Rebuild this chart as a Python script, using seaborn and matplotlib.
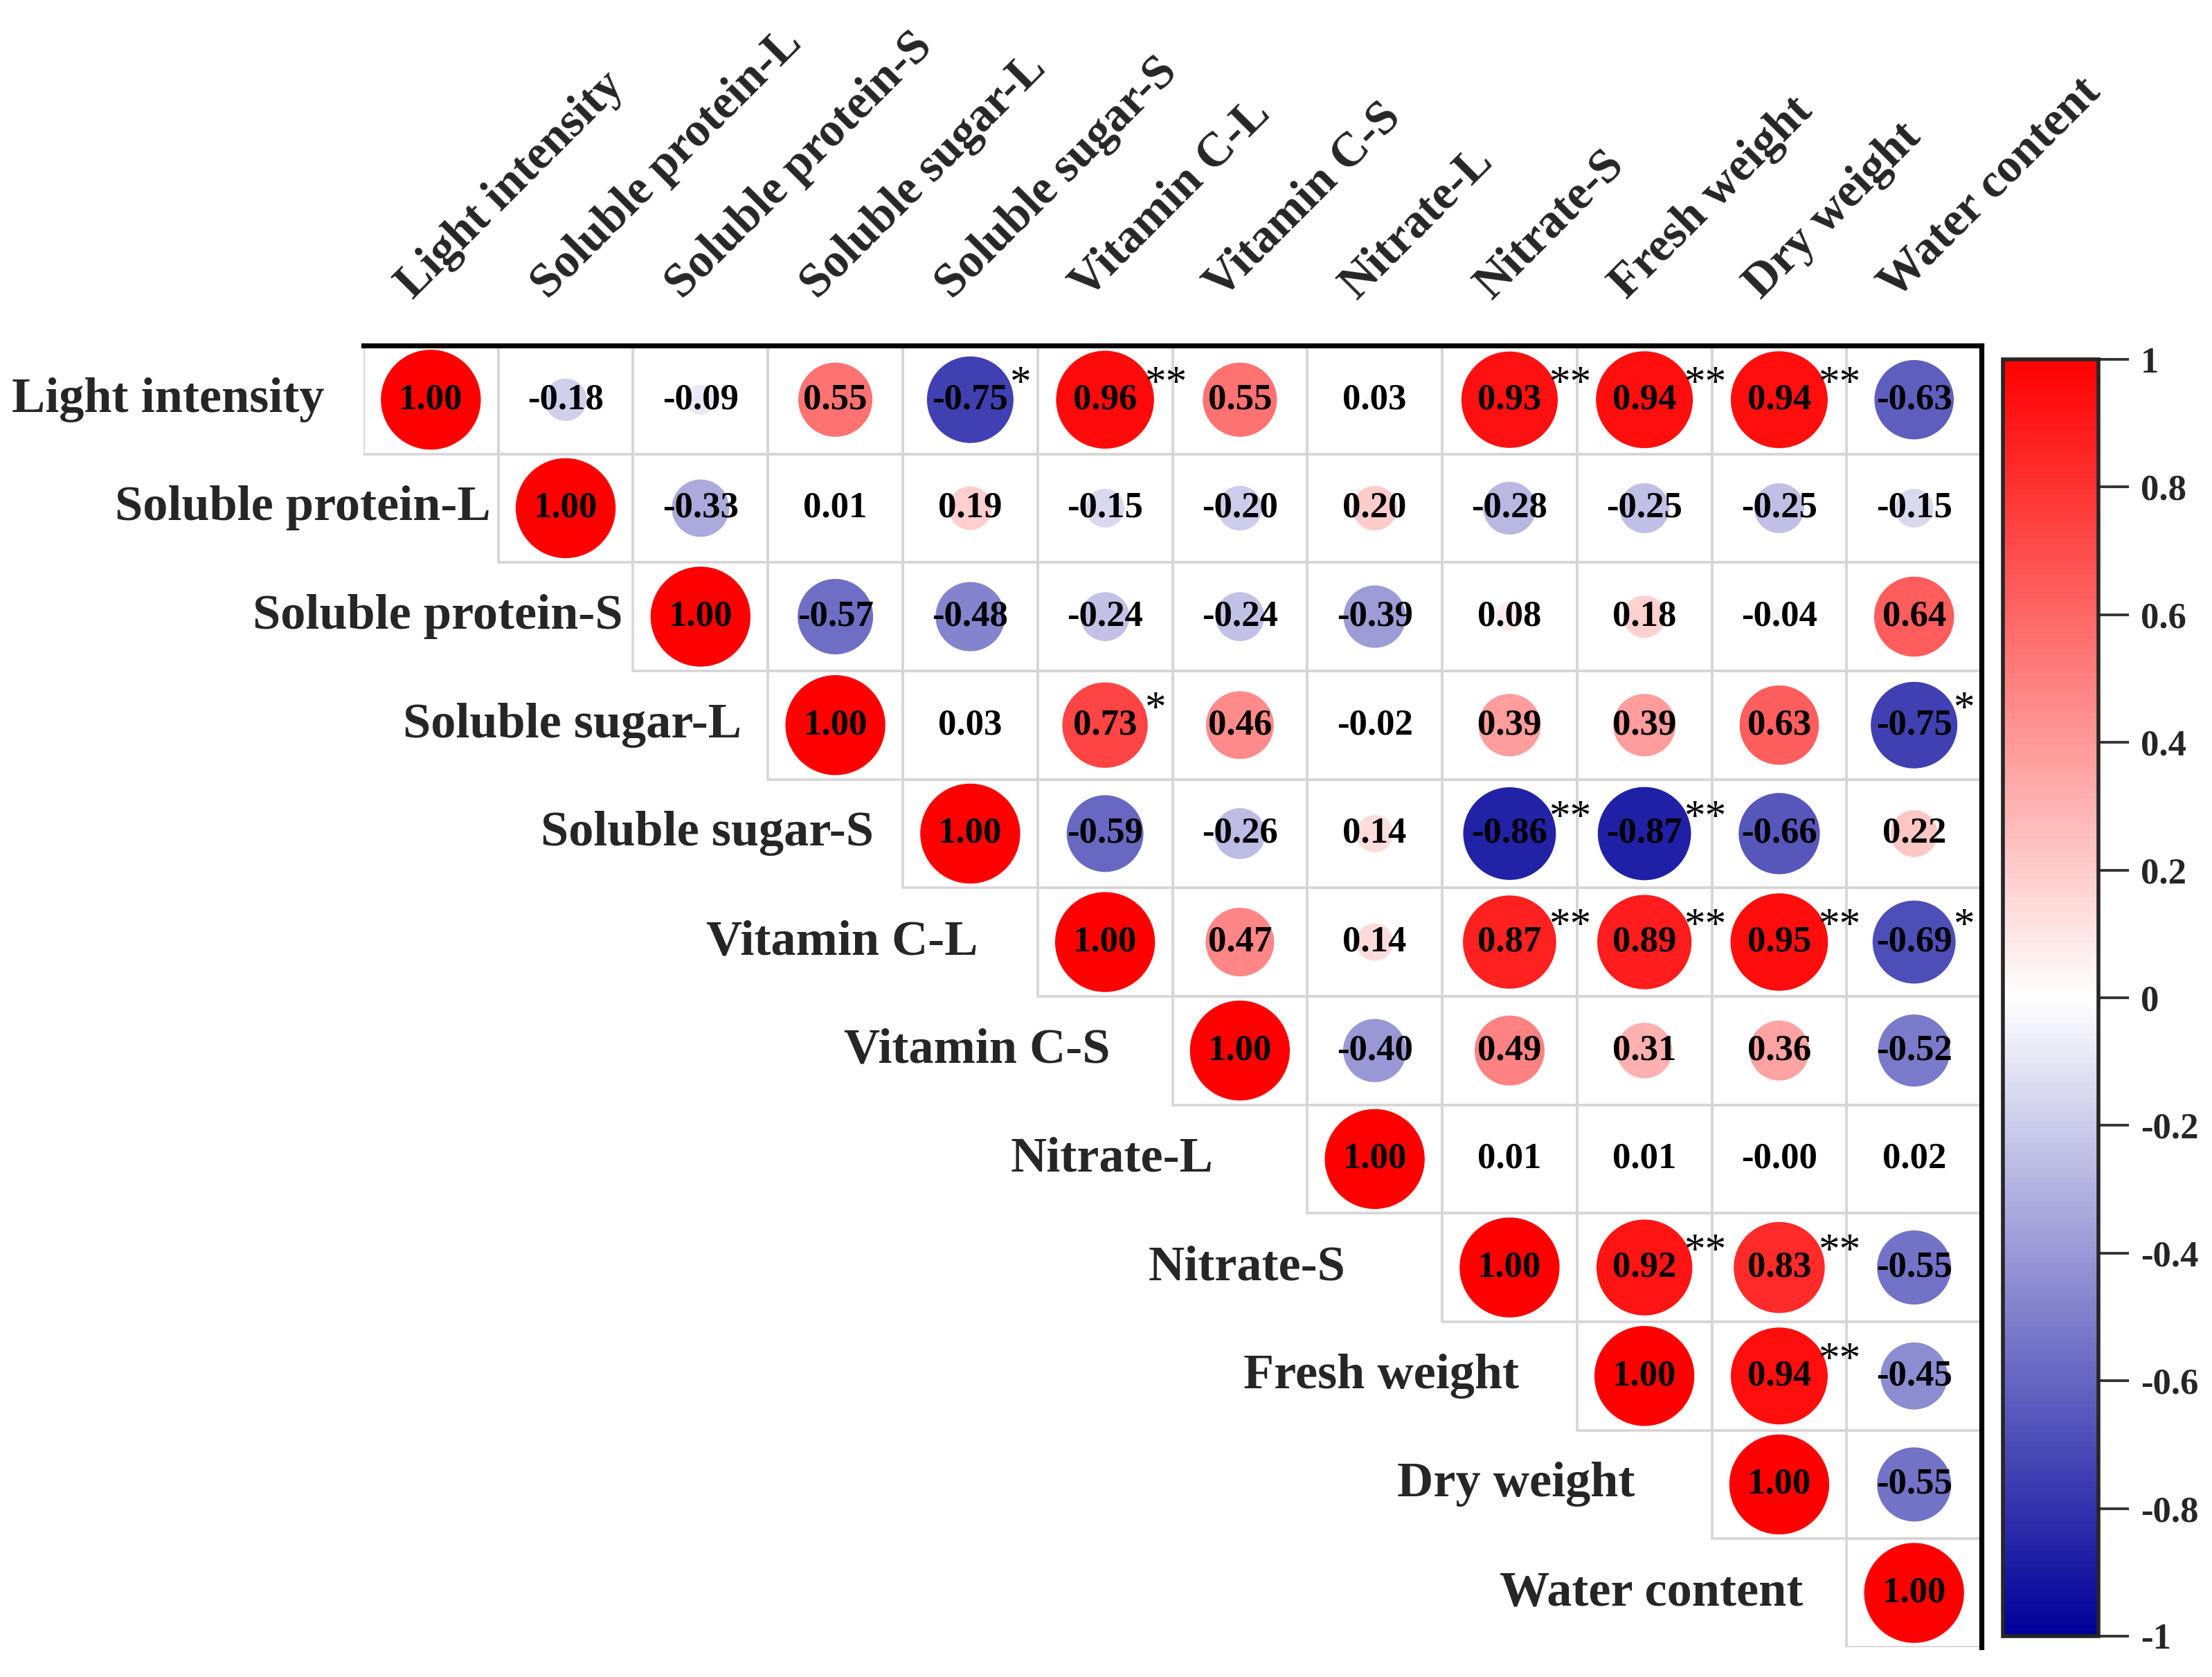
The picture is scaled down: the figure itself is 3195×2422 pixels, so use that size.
import matplotlib
matplotlib.use("Agg")
import matplotlib.pyplot as plt
from matplotlib.colors import LinearSegmentedColormap, Normalize
from matplotlib.cm import ScalarMappable
from matplotlib.patches import Rectangle
import numpy as np
import pandas as pd
import seaborn as sns

sns.set_theme(style="white")
plt.rcParams['font.family'] = ['Liberation Serif', 'DejaVu Serif']
plt.rcParams['font.weight'] = 'bold'

# Variables (rows and columns of the upper-triangle matrix)
variables = ["Light intensity", "Soluble protein-L", "Soluble protein-S", "Soluble sugar-L",
             "Soluble sugar-S", "Vitamin C-L", "Vitamin C-S", "Nitrate-L", "Nitrate-S",
             "Fresh weight", "Dry weight", "Water content"]

# Correlation values, each row starts at the diagonal
corr_upper = [
    [1.00, -0.18, -0.09, 0.55, -0.75, 0.96, 0.55, 0.03, 0.93, 0.94, 0.94, -0.63],
    [1.00, -0.33, 0.01, 0.19, -0.15, -0.20, 0.20, -0.28, -0.25, -0.25, -0.15],
    [1.00, -0.57, -0.48, -0.24, -0.24, -0.39, 0.08, 0.18, -0.04, 0.64],
    [1.00, 0.03, 0.73, 0.46, -0.02, 0.39, 0.39, 0.63, -0.75],
    [1.00, -0.59, -0.26, 0.14, -0.86, -0.87, -0.66, 0.22],
    [1.00, 0.47, 0.14, 0.87, 0.89, 0.95, -0.69],
    [1.00, -0.40, 0.49, 0.31, 0.36, -0.52],
    [1.00, 0.01, 0.01, -0.0, 0.02],
    [1.00, 0.92, 0.83, -0.55],
    [1.00, 0.94, -0.45],
    [1.00, -0.55],
    [1.00],
]

# Significance marks, same layout as corr_upper
signif = [
    ["", "", "", "", "*", "**", "", "", "**", "**", "**", ""],
    ["", "", "", "", "", "", "", "", "", "", ""],
    ["", "", "", "", "", "", "", "", "", ""],
    ["", "", "*", "", "", "", "", "", "*"],
    ["", "", "", "", "**", "**", "", ""],
    ["", "", "", "**", "**", "**", "*"],
    ["", "", "", "", "", ""],
    ["", "", "", "", ""],
    ["", "**", "**", ""],
    ["", "**", ""],
    ["", ""],
    [""],
]

cbar_ticks = [1, 0.8, 0.6, 0.4, 0.2, 0, -0.2, -0.4, -0.6, -0.8, -1]

# Long table for seaborn
records = []
for i, row in enumerate(corr_upper):
    for k, v in enumerate(row):
        records.append({"row": i, "col": i + k, "r": v, "abs_r": abs(v), "star": signif[i][k]})
df = pd.DataFrame(records)

cmap = LinearSegmentedColormap.from_list("bwr_origin", ["#000099", "#ffffff", "#ff0000"])

fig = plt.figure(figsize=(15.975, 12.11), dpi=200)
ax = fig.add_axes([0.1643, 0.0178, 0.7315, 0.7762])

sns.scatterplot(data=df, x="col", y="row", hue="r", size="abs_r", palette=cmap,
                hue_norm=(-1, 1), sizes=(0, 2700), size_norm=(0, 1),
                legend=False, linewidth=0, ax=ax, zorder=2)

n = len(variables)
# cell borders for the upper triangle
for i in range(n):
    for j in range(i, n):
        ax.add_patch(Rectangle((j - 0.5, i - 0.5), 1, 1, fill=False,
                               ec="#d6d6d6", lw=1.3, zorder=1))

# value labels and stars
for _, rec in df.iterrows():
    ax.text(rec["col"], rec["row"], f"{rec['r']:.2f}", ha="center", va="center",
            fontsize=19, fontweight="bold", color="black", zorder=3)
    if rec["star"]:
        ax.text(rec["col"] + 0.29, rec["row"] - 0.14, rec["star"], ha="left", va="center",
                fontsize=22, fontweight="normal", color="black", zorder=3)

# row labels, centred two cells left of the diagonal
for i, name in enumerate(variables):
    ax.text(i - 1.95, i, name, ha="center", va="center", fontsize=26,
            fontweight="bold", clip_on=False)

# column labels on top, rotated
for j, name in enumerate(variables):
    ax.text(j - 0.08, -0.85, name, ha="left", va="bottom", rotation=45,
            rotation_mode="anchor", fontsize=25, fontweight="bold", clip_on=False)

ax.set_xlim(-0.5, n - 0.5)
ax.set_ylim(n - 0.5, -0.5)
ax.set_xlabel("")
ax.set_ylabel("")
ax.set_xticks([])
ax.set_yticks([])
for side in ["left", "bottom"]:
    ax.spines[side].set_visible(False)
for side in ["top", "right"]:
    ax.spines[side].set_visible(True)
    ax.spines[side].set_linewidth(2.6)
    ax.spines[side].set_color("black")

# colorbar
cax = fig.add_axes([0.9055, 0.0244, 0.0432, 0.7613])
sm = ScalarMappable(norm=Normalize(-1, 1), cmap=cmap)
cb = fig.colorbar(sm, cax=cax, ticks=cbar_ticks)
cb.ax.tick_params(length=16, width=1.4, color="#333333", pad=6)
cb.ax.set_yticklabels([f"{t:g}" for t in cbar_ticks], fontsize=19, fontweight="bold")
cb.outline.set_linewidth(2)

fig.savefig("out.png", dpi=200)
